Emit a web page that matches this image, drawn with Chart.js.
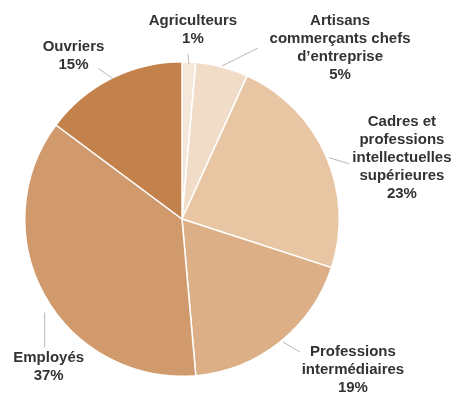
<!DOCTYPE html>
<html><head><meta charset="utf-8">
<script src="https://cdn.jsdelivr.net/npm/chart.js@4"></script>
<style>html,body{margin:0;padding:0;background:#fff;}#wrap{width:471px;height:394px;position:relative;}</style>
</head><body><div id="wrap"><canvas id="c" width="471" height="394"></canvas></div>
<script>
const categories = ["Agriculteurs", "Artisans commerçants chefs d'entreprise", "Cadres et professions intellectuelles supérieures", "Professions intermédiaires", "Employés", "Ouvriers"];
const values = [1.4, 5.4, 23.2, 18.6, 36.6, 14.8];
const labelLines = [
  ["Agriculteurs", "1%"],
  ["Artisans", "commerçants chefs", "d\u2019entreprise", "5%"],
  ["Cadres et", "professions", "intellectuelles", "supérieures", "23%"],
  ["Professions", "intermédiaires", "19%"],
  ["Employés", "37%"],
  ["Ouvriers", "15%"]
];
const colors = ["#f6e7db", "#f1dcc8", "#e8c5a3", "#ddaf87", "#d09a6c", "#c3824c"];
// label placement relative to the arc's outer edge at its mid-angle: leader [x0,y0,x1,y1], text block center [dx,dy]
const labelLayout = [
  {lead:[0,2,-1,-8], text:[4,-32]},
  {lead:[0,-1,36,-19], text:[118,-19]},
  {lead:[3,2,23,8], text:[76,2]},
  {lead:[3,0,20,10], text:[73,28]},
  {lead:[0,17,0,52], text:[4,71]},
  {lead:[1,0,-13,-10], text:[-38,-23]}
];
const labelPlugin = {
  id: 'sliceLabels',
  afterDatasetsDraw(chart) {
    const ctx = chart.ctx;
    const meta = chart.getDatasetMeta(0);
    meta.data.forEach((arc, i) => {
      const p = arc.getProps(['x','y','startAngle','endAngle','outerRadius'], true);
      const mid = (p.startAngle + p.endAngle) / 2;
      const ex = p.x + Math.cos(mid) * p.outerRadius;
      const ey = p.y + Math.sin(mid) * p.outerRadius;
      const L = labelLayout[i];
      ctx.save();
      ctx.strokeStyle = '#b8b8b8';
      ctx.lineWidth = 1;
      ctx.beginPath();
      ctx.moveTo(ex + L.lead[0], ey + L.lead[1]);
      ctx.lineTo(ex + L.lead[2], ey + L.lead[3]);
      ctx.stroke();
      ctx.fillStyle = '#333333';
      ctx.font = 'bold 15px "Liberation Sans", Arial, sans-serif';
      ctx.textAlign = 'center';
      ctx.textBaseline = 'middle';
      const lines = labelLines[i];
      const lh = 18;
      const cx = ex + L.text[0], cy = ey + L.text[1];
      lines.forEach((t, k) => {
        ctx.fillText(t, cx, cy + (k - (lines.length - 1) / 2) * lh);
      });
      ctx.restore();
    });
  }
};
new Chart(document.getElementById('c'), {
  type: 'pie',
  data: { labels: categories, datasets: [{ data: values, backgroundColor: colors, borderColor: '#ffffff', borderWidth: 1.5 }] },
  options: {
    responsive: false,
    animation: false,
    layout: { padding: { top: 61, bottom: 17, left: 24, right: 131 } },
    plugins: { legend: { display: false }, tooltip: { enabled: false } }
  },
  plugins: [labelPlugin]
});
</script></body></html>
